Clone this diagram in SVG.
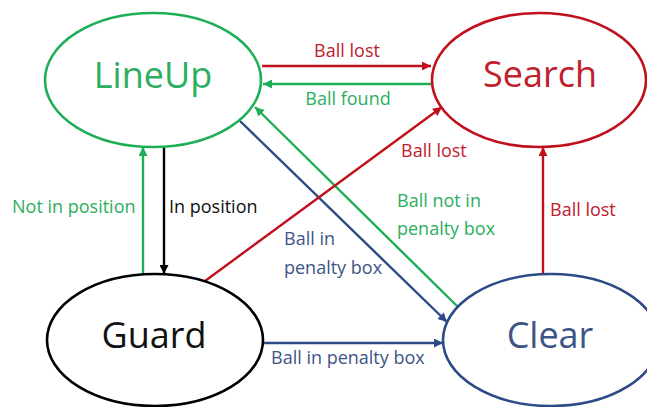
<svg xmlns="http://www.w3.org/2000/svg" width="647" height="407" viewBox="0 0 647 407">
<style>
.node{fill:#fff;stroke-width:2.6}
.big{font-family:"Open Sans","Noto Sans","Liberation Sans",sans-serif;font-size:36px;text-anchor:middle}
.lbl{font-family:"Open Sans","Noto Sans","Liberation Sans",sans-serif;font-size:18px}
.c{fill:none;stroke-width:2.4}
.g{stroke:#1fae57}.r{stroke:#c0101c}.b{stroke:#2c4a86}.k{stroke:#000}
.tg{fill:#2cae60}.tr{fill:#c0202c}.tb{fill:#3d5585}.tk{fill:#111}
</style>
<defs>
<marker id="ag" viewBox="0 0 10 10" refX="10" refY="5" markerWidth="10" markerHeight="9" markerUnits="userSpaceOnUse" orient="auto"><path d="M0,0 L10,5 L0,10 Z" fill="#1fae57"/></marker>
<marker id="ar" viewBox="0 0 10 10" refX="10" refY="5" markerWidth="10" markerHeight="9" markerUnits="userSpaceOnUse" orient="auto"><path d="M0,0 L10,5 L0,10 Z" fill="#c0101c"/></marker>
<marker id="ab" viewBox="0 0 10 10" refX="10" refY="5" markerWidth="10" markerHeight="9" markerUnits="userSpaceOnUse" orient="auto"><path d="M0,0 L10,5 L0,10 Z" fill="#2c4a86"/></marker>
<marker id="ak" viewBox="0 0 10 10" refX="10" refY="5" markerWidth="10" markerHeight="9" markerUnits="userSpaceOnUse" orient="auto"><path d="M0,0 L10,5 L0,10 Z" fill="#000"/></marker>
</defs>
<rect width="647" height="407" fill="#fff"/>
<g id="connectors">
<line class="c r" x1="262" y1="66" x2="431" y2="66" marker-end="url(#ar)"/>
<line class="c g" x1="432" y1="84" x2="263" y2="84" marker-end="url(#ag)"/>
<line class="c b" x1="240" y1="121" x2="447" y2="322" marker-end="url(#ab)"/>
<line class="c g" x1="458" y1="307" x2="255" y2="107" marker-end="url(#ag)"/>
<line class="c r" x1="205" y1="281" x2="442" y2="107" marker-end="url(#ar)"/>
<line class="c b" x1="263" y1="343" x2="443" y2="343" marker-end="url(#ab)"/>
<line class="c r" x1="543" y1="274" x2="543" y2="147" marker-end="url(#ar)"/>
<line class="c g" x1="143" y1="274" x2="143" y2="147" marker-end="url(#ag)"/>
<line class="c k" x1="164" y1="147" x2="164" y2="274" marker-end="url(#ak)"/>
<text class="lbl tr" x="347" y="57" text-anchor="middle">Ball lost</text>
<text class="lbl tg" x="348" y="105" text-anchor="middle">Ball found</text>
<text class="lbl tg" x="12" y="213">Not in position</text>
<text class="lbl tk" x="169" y="213">In position</text>
<text class="lbl tr" x="401" y="157">Ball lost</text>
<text class="lbl tg" x="397" y="207">Ball not in</text>
<text class="lbl tg" x="397" y="235">penalty box</text>
<text class="lbl tb" x="284" y="245">Ball in</text>
<text class="lbl tb" x="284" y="274">penalty box</text>
<text class="lbl tr" x="550" y="216">Ball lost</text>
<text class="lbl tb" x="271" y="364">Ball in penalty box</text>
</g>
<g id="lineup">
<ellipse class="node g" cx="153" cy="80" rx="108" ry="67"/>
<text class="big tg" x="153" y="88">LineUp</text>
</g>
<g id="search">
<ellipse class="node r" cx="539" cy="80" rx="107" ry="67"/>
<text class="big tr" x="540" y="87">Search</text>
</g>
<g id="guard">
<ellipse class="node k" cx="155" cy="340" rx="108" ry="66"/>
<text class="big tk" x="154" y="348">Guard</text>
</g>
<g id="clear">
<ellipse class="node b" cx="551" cy="340" rx="108" ry="66"/>
<text class="big tb" x="550" y="348">Clear</text>
</g>
</svg>
